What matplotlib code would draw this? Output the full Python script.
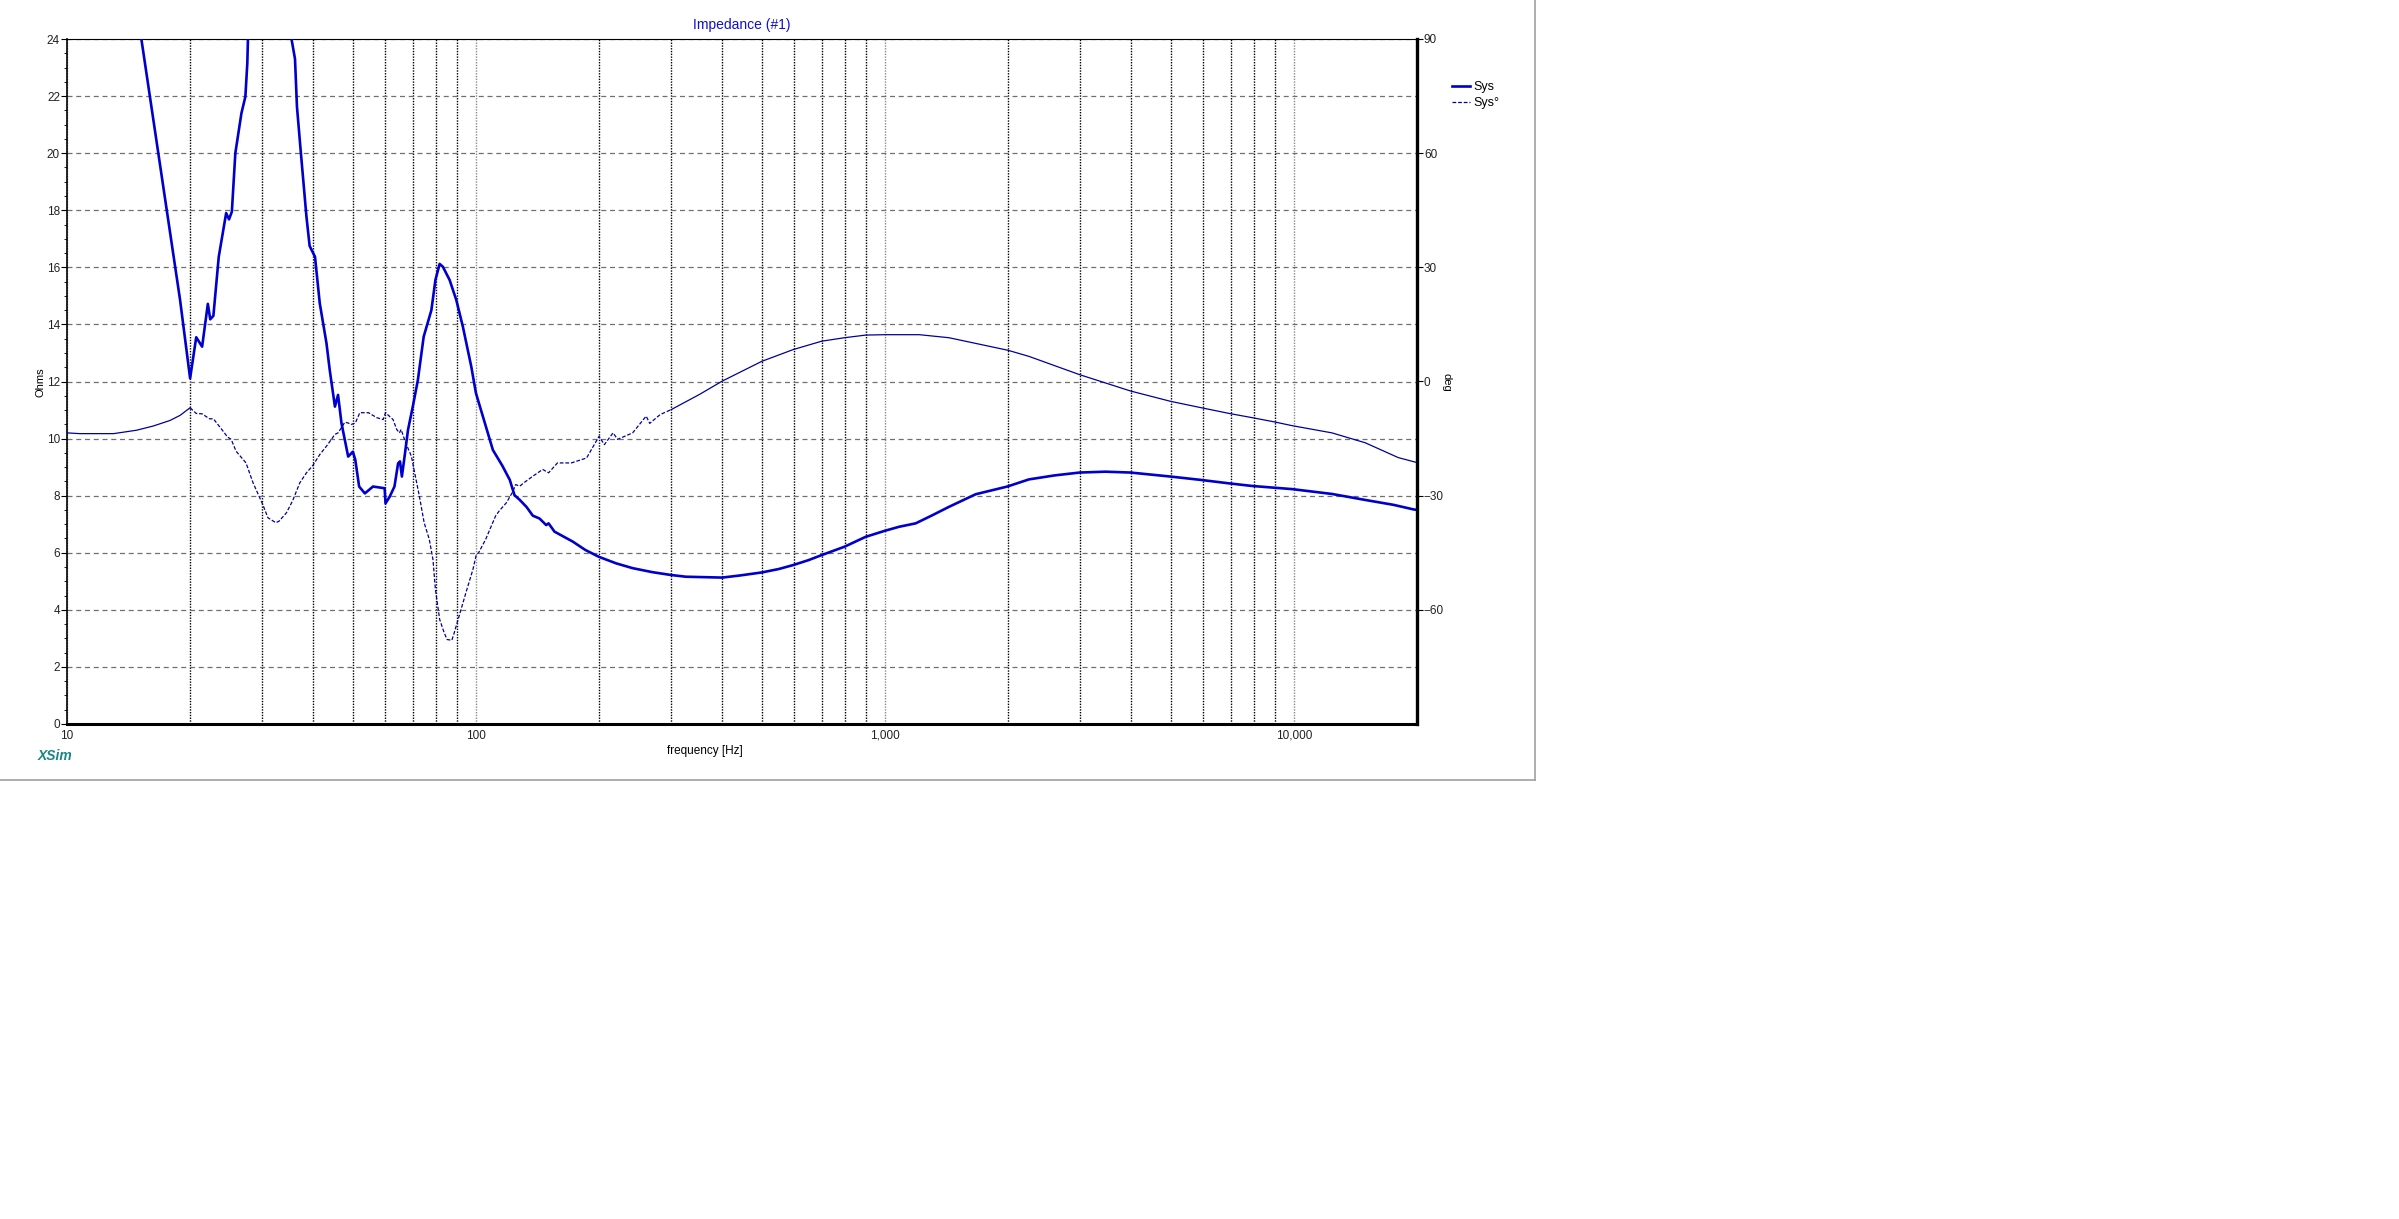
import numpy as np
import matplotlib
matplotlib.use("Agg")
import matplotlib.pyplot as plt
from matplotlib.ticker import FixedLocator, FuncFormatter, MultipleLocator, NullFormatter
from matplotlib.lines import Line2D

# magnitude (Ohms)
mag_freq = [10, 12, 14, 15.2, 18.9, 20.0, 20.7, 21.4, 22.1, 22.4, 22.8, 23.5, 24.5, 24.9,
            25.3, 25.8, 26.7, 27.3, 27.6, 27.7, 29, 31.5, 33.5, 35.4, 36.1, 36.5, 37.2,
            38.5, 39.2, 40.4, 41.5, 43.1, 43.9, 45.2, 46.0, 46.9, 48.7, 50.0, 50.7, 51.8,
            53.5, 56.0, 59.8, 60.1, 61.5, 63.2, 64.5, 65.2, 65.9, 66.9, 68.2, 70.2, 72.1,
            74.5, 77.8, 79.6, 81.5, 83.0, 86.2, 89.5, 92.9, 97.4, 100, 104, 110, 116, 121,
            124.2, 128, 133, 137.7, 143, 148.5, 150.5, 155.6, 172.5, 185, 199.6, 220, 241.6,
            270, 300, 326, 400, 440, 500, 550, 597, 650, 701, 796, 898, 1000, 1083, 1189,
            1300, 1435, 1667, 1992, 2250, 2600, 2992, 3461, 3987, 4989, 5940, 6950, 7903,
            9895, 12390, 14940, 17500, 19590, 20000]
mag_ohm = [40, 33, 27, 24.0, 14.86, 12.11, 13.55, 13.22, 14.72, 14.18, 14.3, 16.37, 17.9,
           17.68, 17.95, 20.0, 21.4, 21.98, 23.15, 24.0, 32, 40, 36, 24.0, 23.3, 21.63,
           20.23, 17.78, 16.75, 16.37, 14.74, 13.34, 12.4, 11.12, 11.53, 10.54, 9.37, 9.54,
           9.25, 8.32, 8.08, 8.32, 8.26, 7.73, 7.96, 8.32, 9.13, 9.2, 8.67, 9.37, 10.3,
           11.18, 12.05, 13.57, 14.5, 15.56, 16.12, 16.02, 15.56, 14.86, 13.92, 12.52,
           11.59, 10.77, 9.6, 9.05, 8.55, 8.02, 7.85, 7.6, 7.3, 7.2, 6.97, 7.03, 6.74,
           6.39, 6.1, 5.86, 5.63, 5.46, 5.32, 5.22, 5.16, 5.13, 5.2, 5.31, 5.43, 5.57,
           5.74, 5.92, 6.21, 6.56, 6.77, 6.91, 7.03, 7.3, 7.61, 8.05, 8.32, 8.57, 8.71,
           8.81, 8.84, 8.81, 8.67, 8.55, 8.43, 8.34, 8.23, 8.06, 7.85, 7.68, 7.52, 7.5]

# phase (deg)
ph_freq = [10, 10.75, 13.0, 14.8, 16.25, 17.85, 18.9, 20.0, 20.7, 21.4, 22.3, 22.8, 23.9,
           24.7, 25.2, 25.9, 27.4, 28.5, 30.1, 31.0, 32.4, 33.0, 34.4, 35.6, 37.1, 38.5,
           39.9, 41.5, 43.1, 45.2, 46.0, 47.8, 48.7, 49.5, 50.7, 52.0, 54.6, 57.2, 59.3,
           60.1, 62.7, 64.0, 65.0, 65.6, 67.3, 69.5, 72.7, 74.7, 76.9, 78.5, 79.6, 81.5,
           83.6, 85.0, 87.3, 88.5, 90.9, 94.5, 98.3, 100.2, 101.5, 105.6, 111.6, 114,
           118.6, 123, 125, 128, 131, 137.7, 145.6, 150.5, 158.2, 171, 186.4, 200, 206,
           216.4, 222, 241.6, 260.7, 266, 282, 300, 352, 400, 500, 597, 701, 796, 898,
           1000, 1214, 1435, 2000, 2250, 2992, 3987, 4989, 5940, 6950, 7903, 8946, 9895,
           12390, 14940, 18000, 20000]
ph_deg = [-13.5, -13.7, -13.7, -12.8, -11.7, -10.25, -8.9, -6.9, -8.4, -8.5, -9.8, -9.8,
          -12.6, -14.6, -15.2, -18.3, -21.4, -26.6, -32.3, -35.8, -37.1, -36.7, -34.5,
          -31.4, -26.6, -24.0, -22.1, -19.2, -17.0, -13.9, -13.5, -10.7, -10.9, -11.3,
          -10.9, -8.2, -8.2, -9.5, -10.0, -8.2, -10.0, -12.6, -13.5, -12.6, -16.1, -19.6,
          -30.1, -37.1, -41.5, -46.8, -54.7, -62.5, -66.0, -67.8, -68.0, -66.0, -61.7,
          -55.5, -49.4, -45.5, -45.0, -41.5, -35.4, -34.0, -31.9, -29.0, -27.1, -27.5,
          -26.6, -24.9, -23.1, -24.0, -21.4, -21.4, -20.1, -14.4, -16.6, -13.5, -15.2,
          -13.5, -9.1, -11.0, -8.7, -7.4, -3.4, 0.1, 5.3, 8.4, 10.6, 11.5, 12.2, 12.3,
          12.3, 11.5, 8.2, 6.6, 1.8, -2.5, -5.2, -6.9, -8.4, -9.5, -10.6, -11.6, -13.5,
          -16.1, -20.0, -21.3]

W, H = 2399, 1219
fig = plt.figure(figsize=(W / 100, H / 100), dpi=100)
plt.rcParams['font.family'] = ['Liberation Sans', 'DejaVu Sans']

# axes box in pixels: x 67..1417, y 39..724
ax = fig.add_axes([67 / W, 1 - 724 / H, 1350 / W, 685 / H])
ax.set_xscale('log')
ax.set_xlim(10, 20000)
ax.set_ylim(0, 24)

ax.plot(mag_freq, mag_ohm, color='#0000cc', lw=1.9, label='Sys', zorder=3)

ax.yaxis.set_major_locator(MultipleLocator(2))
ax.yaxis.set_minor_locator(MultipleLocator(0.5))
ax.xaxis.set_major_locator(FixedLocator([10, 100, 1000, 10000]))
ax.xaxis.set_minor_locator(FixedLocator([m * d for d in (10, 100, 1000) for m in range(2, 10)]))
ax.xaxis.set_major_formatter(FuncFormatter(lambda v, p: f"{int(v):,}"))
ax.xaxis.set_minor_formatter(NullFormatter())

ax.grid(axis='y', which='major', color='#707070', ls=(0, (4, 3)), lw=0.9)
ax.grid(axis='x', which='minor', color='black', ls=(0, (1, 1)), lw=1.0)
ax.grid(axis='x', which='major', color='#8a8a8a', ls=(0, (1, 1)), lw=1.0)

ax.tick_params(axis='y', which='major', length=4, width=0.8, labelsize=8.5, pad=1, labelcolor='#222222')
ax.tick_params(axis='y', which='minor', length=2, width=0.6)
ax.tick_params(axis='x', which='both', length=0, labelsize=8.5, pad=4, labelcolor='#222222')

ax.spines['left'].set_linewidth(1.2)
ax.spines['bottom'].set_linewidth(2.2)
ax.spines['top'].set_linewidth(0.8)
ax.spines['top'].set_linestyle((0, (2, 1)))
ax.spines['right'].set_visible(False)

ax2 = ax.twinx()
ax2.set_ylim(-90, 90)
# the phase trace looks solid where it is flat and dashed where it is steep
pf = np.array(ph_freq)
pd_ = np.array(ph_deg)
lo = pf <= 20.0
mid = (pf >= 20.0) & (pf <= 300)
hi = pf >= 300
ph_col = '#00009a'
ax2.plot(pf[lo], pd_[lo], color=ph_col, lw=0.9)
ax2.plot(pf[mid], pd_[mid], color=ph_col, lw=0.9, ls=(0, (3, 1.5)))
ax2.plot(pf[hi], pd_[hi], color=ph_col, lw=0.9)
ax2.yaxis.set_major_locator(FixedLocator([-60, -30, 0, 30, 60, 90]))
ax2.tick_params(axis='y', length=4, width=0.8, labelsize=8.5, pad=1, labelcolor='#222222')
ax2.spines['right'].set_linewidth(2.4)
for s in ('left', 'top', 'bottom'):
    ax2.spines[s].set_visible(False)

fig.text(742 / W, 1 - 25 / H, "Impedance (#1)", color='#1010d0', fontsize=10,
         ha='center', va='center')
fig.text(40 / W, 1 - 382 / H, "Ohms", fontsize=8, rotation=90, ha='center', va='center')
fig.text(1447 / W, 1 - 382 / H, "deg", fontsize=8, rotation=-90, ha='center', va='center')
fig.text(705 / W, 1 - 751 / H, "frequency [Hz]", fontsize=8.5, ha='center', va='center')
fig.text(38 / W, 1 - 756 / H, "XSim", fontsize=10, color='#1a8585', fontweight='bold',
         style='italic', ha='left', va='center')

# legend
h1 = Line2D([], [], color='#0000cc', lw=1.9)
h2 = Line2D([], [], color=ph_col, lw=0.9, ls=(0, (3, 1.5)))
fig.legend([h1, h2], ['Sys', 'Sys°'], loc='upper left', bbox_to_anchor=(1452 / W, 1 - 81 / H),
           frameon=False, fontsize=9, handlelength=1.4, handletextpad=0.3,
           labelspacing=0.35, borderpad=0, borderaxespad=0)

# outer frame of the chart panel
yb = 1 - 780 / H
xr = 1535 / W
fig.add_artist(Line2D([0, xr], [yb, yb], color='#a0a0a0', lw=1.2, transform=fig.transFigure))
fig.add_artist(Line2D([xr, xr], [yb, 1], color='#a0a0a0', lw=1.2, transform=fig.transFigure))

fig.savefig("out.png", dpi=100)
